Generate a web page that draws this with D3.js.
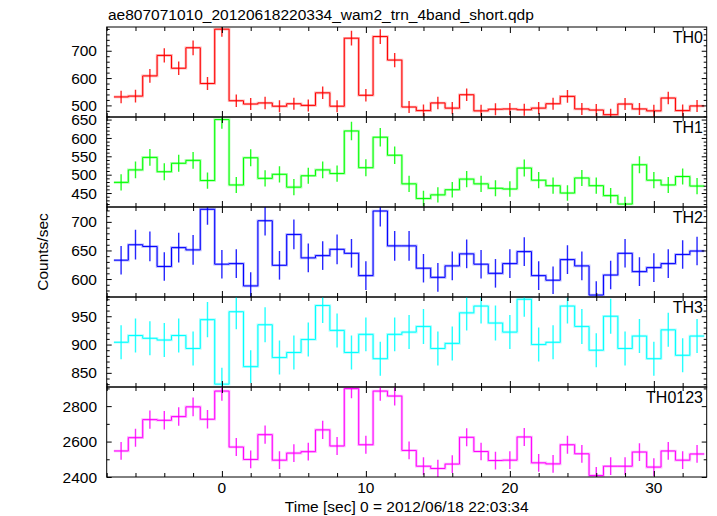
<!DOCTYPE html>
<html>
<head>
<meta charset="utf-8">
<script src="https://cdn.jsdelivr.net/npm/d3@7"></script>
<style>
html,body{margin:0;padding:0;background:#fff;}
svg{display:block;font-family:"Liberation Sans",Arial,Helvetica,sans-serif;}
</style>
</head>
<body>
<svg id="chart" width="717" height="516"></svg>
<script>
// ---- data ----
const times = [-7,-6,-5,-4,-3,-2,-1,0,1,2,3,4,5,6,7,8,9,10,11,12,13,14,15,16,17,18,19,20,21,22,23,24,25,26,27,28,29,30,31,32,33];
const binWidth = 1;

const th0 = [531,534,608,683,636,711,580,779,517,505,509,497,506,500,546,497,746,537,752,666,494,481,509,490,539,480,486,487,484,490,506,533,487,483,466,505,487,480,527,481,498];
const th0Err = [23,23,25,26,25,27,24,28,23,22,23,22,22,22,23,22,27,23,27,26,22,22,23,22,23,22,22,22,22,22,22,23,22,22,22,22,22,22,23,22,22];

const th1 = [479,513,547,508,531,539,484,650,472,546,490,501,466,497,513,503,619,519,602,553,475,435,445,459,488,475,463,461,518,485,470,450,491,470,443,420,527,485,472,495,469];
const th1Err = [22,23,23,23,23,23,22,25,22,23,22,22,22,22,23,22,25,23,25,24,22,21,21,21,22,22,22,21,23,22,22,21,22,22,21,20,23,22,22,22,22];

const th2 = [633,660,657,622,655,651,722,626,627,588,702,624,678,637,641,652,645,606,719,658,658,619,603,623,644,626,610,627,648,606,598,634,623,572,607,645,613,620,627,643,649];
const th2Err = [25,26,26,25,26,26,27,25,25,24,26,25,26,25,25,26,25,25,27,26,26,25,25,25,25,25,25,25,25,25,24,25,25,24,25,25,25,25,25,25,25];

const th3 = [904,916,911,908,916,893,944,830,958,861,935,877,886,909,969,925,886,918,875,918,922,932,893,902,956,968,938,922,980,900,904,968,932,890,950,893,915,875,926,881,915];
const th3Err = [30,30,30,30,30,30,31,29,31,29,31,30,30,30,31,30,30,30,30,30,30,31,30,30,31,31,31,30,31,30,30,31,31,30,31,30,30,30,30,30,30];

const th0123 = [2547,2622,2724,2720,2741,2796,2726,2885,2569,2499,2639,2495,2535,2543,2666,2575,2899,2582,2885,2857,2550,2461,2448,2473,2624,2544,2493,2495,2626,2480,2474,2582,2531,2408,2461,2461,2541,2456,2547,2495,2530];
const th0123Err = [50,51,52,52,52,53,52,54,51,50,51,50,50,50,52,51,54,51,54,53,50,50,49,50,51,50,50,50,51,50,50,51,50,49,50,50,50,50,50,50,50];

const panelNames = ["TH0","TH1","TH2","TH3","TH0123"];
const panelColors = ["#ff0000","#00ff00","#0000ff","#00ffff","#ff00ff"];
const panelValues = [th0, th1, th2, th3, th0123];
const panelErrors = [th0Err, th1Err, th2Err, th3Err, th0123Err];
const panelDomains = [[457.5,787],[412,657],[568.6,726],[825,984],[2400,2908]];
const panelMajorTicks = [[500,600,700],[450,500,550,600,650],[600,650,700],[850,900,950],[2400,2600,2800]];
const panelMinorStep = [20,10,10,10,100];

const xDomain = [-8, 33.67];
const xMajorTicks = [0,10,20,30];
const xMinorStep = 2;

const titleText = "ae807071010_20120618220334_wam2_trn_4band_short.qdp";
const xLabelText = "Time [sec] 0 = 2012/06/18 22:03:34";
const yLabelText = "Counts/sec";

// ---- layout ----
const svg = d3.select("#chart");
const left = 106.7, right = 706.7, top0 = 27, panelH = 90;
const nP = panelNames.length;
const x = d3.scaleLinear().domain(xDomain).range([left, right]);

const xMinor = d3.range(Math.ceil(xDomain[0]/xMinorStep)*xMinorStep, xDomain[1]+1e-9, xMinorStep)
  .filter(v => !xMajorTicks.includes(v));

panelNames.forEach((name, i) => {
  const pTop = top0 + i*panelH, pBot = pTop + panelH;
  const y = d3.scaleLinear().domain(panelDomains[i]).range([pBot, pTop]);
  const g = svg.append("g");
  const clipId = "clip"+i;
  svg.append("clipPath").attr("id", clipId).append("rect")
    .attr("x", left).attr("y", pTop).attr("width", right-left).attr("height", panelH);

  const vals = panelValues[i], errs = panelErrors[i], col = panelColors[i];
  const pts = [];
  times.forEach((t, k) => { pts.push([t - binWidth/2, vals[k]]); pts.push([t + binWidth/2, vals[k]]); });
  const line = d3.line().x(d => x(d[0])).y(d => y(d[1]));
  const dg = g.append("g").attr("clip-path", `url(#${clipId})`);
  dg.append("path").attr("d", line(pts)).attr("fill","none").attr("stroke", col)
    .attr("stroke-width", 2.6).attr("stroke-opacity", 0.3);
  dg.append("path").attr("d", line(pts)).attr("fill","none").attr("stroke", col)
    .attr("stroke-width", 1);
  dg.selectAll("line.err").data(times).join("line").attr("class","err")
    .attr("x1", t => x(t)).attr("x2", t => x(t))
    .attr("y1", (t,k) => y(vals[k]-errs[k])).attr("y2", (t,k) => y(vals[k]+errs[k]))
    .attr("stroke", col).attr("stroke-width", 1.4).attr("stroke-opacity", 0.85);

  // Y axes (left and right), inward ticks
  const yMinor = d3.range(Math.ceil(panelDomains[i][0]/panelMinorStep[i])*panelMinorStep[i], panelDomains[i][1], panelMinorStep[i])
    .filter(v => !panelMajorTicks[i].includes(v));
  const yAxL = d3.axisRight(y).tickValues(panelMajorTicks[i]).tickSize(5).tickFormat("");
  const yAxLm = d3.axisRight(y).tickValues(yMinor).tickSize(3).tickFormat("");
  const yAxR = d3.axisLeft(y).tickValues(panelMajorTicks[i]).tickSize(5).tickFormat("");
  const yAxRm = d3.axisLeft(y).tickValues(yMinor).tickSize(3).tickFormat("");
  [[yAxL,left],[yAxLm,left],[yAxR,right],[yAxRm,right]].forEach(([ax, px]) => {
    const a = g.append("g").attr("transform", `translate(${px},0)`).call(ax);
    a.select(".domain").remove();
    a.selectAll("line").attr("stroke","#000");
  });
  // tick labels
  g.selectAll("text.yl").data(panelMajorTicks[i]).join("text").attr("class","yl")
    .attr("x", 97).attr("y", d => y(d)).attr("dy","0.36em").attr("text-anchor","end")
    .attr("font-size", 15.5).attr("fill","#000").text(d => d);

  // X axes (top and bottom), inward ticks
  const xAxB = d3.axisTop(x).tickValues(xMajorTicks).tickSize(6).tickFormat("");
  const xAxBm = d3.axisTop(x).tickValues(xMinor).tickSize(4).tickFormat("");
  const xAxT = d3.axisBottom(x).tickValues(xMajorTicks).tickSize(6).tickFormat("");
  const xAxTm = d3.axisBottom(x).tickValues(xMinor).tickSize(4).tickFormat("");
  [[xAxB,pBot],[xAxBm,pBot],[xAxT,pTop],[xAxTm,pTop]].forEach(([ax, py]) => {
    const a = g.append("g").attr("transform", `translate(0,${py})`).call(ax);
    a.select(".domain").remove();
    a.selectAll("line").attr("stroke","#000");
  });

  // frame
  g.append("rect").attr("x", left).attr("y", pTop).attr("width", right-left).attr("height", panelH)
    .attr("fill","none").attr("stroke","#000").attr("stroke-width",1);

  // panel label
  g.append("text").attr("x", 703).attr("y", pTop + 16).attr("text-anchor","end")
    .attr("font-size", 16).attr("fill","#000").text(name);

  if (i === nP-1) {
    g.selectAll("text.xl").data(xMajorTicks).join("text").attr("class","xl")
      .attr("x", d => x(d)).attr("y", 493).attr("text-anchor","middle")
      .attr("font-size", 15.5).attr("fill","#000").text(d => d);
  }
});

svg.append("text").attr("x", 108).attr("y", 20).attr("font-size", 15.5).attr("fill","#000").text(titleText);
svg.append("text").attr("x", (left+right)/2).attr("y", 511.5).attr("text-anchor","middle")
  .attr("font-size", 15.5).attr("fill","#000").text(xLabelText);
svg.append("text").attr("transform", `translate(48,${top0 + nP*panelH/2}) rotate(-90)`)
  .attr("text-anchor","middle").attr("font-size", 15.5).attr("fill","#000").text(yLabelText);
</script>
</body>
</html>
